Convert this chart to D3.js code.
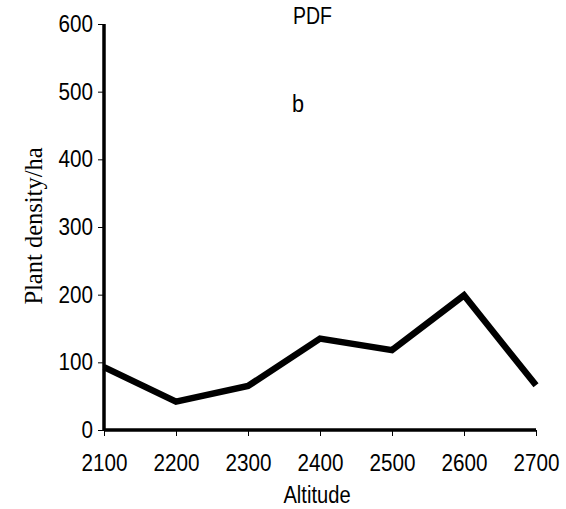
<!DOCTYPE html>
<html>
<head>
<meta charset="utf-8">
<script src="https://cdn.jsdelivr.net/npm/d3@7"></script>
<style>
  body { margin: 0; background: #fff; }
  text { fill: #000; }
</style>
</head>
<body>
<div id="chart"></div>
<script>
// data
var altitudes = [2100, 2200, 2300, 2400, 2500, 2600, 2700];
var density = [93, 42, 65, 135, 118, 199, 66];
var yTicks = [0, 100, 200, 300, 400, 500, 600];

var svgWidth = 566;
var svgHeight = 509;

var margin = { top: 24, right: 30, bottom: 79, left: 104 };
var width = 536 - margin.left;
var height = 430 - margin.top;

var sansFont = 'Liberation Sans, Arial, sans-serif';

var svg = d3.select('#chart')
  .append('svg')
  .attr('width', svgWidth)
  .attr('height', svgHeight);

var chartGroup = svg.append('g')
  .attr('transform', `translate(${margin.left}, ${margin.top})`);

var xScale = d3.scaleLinear().domain([2100, 2700]).range([0, width]);
var yScale = d3.scaleLinear().domain([0, 600]).range([height, 0]);

// y axis
var yAxis = chartGroup.append('g')
  .call(d3.axisLeft(yScale).tickValues(yTicks).tickSize(6).tickPadding(5));

// x axis
var xAxis = chartGroup.append('g')
  .attr('transform', `translate(0, ${height})`)
  .call(d3.axisBottom(xScale).tickValues(altitudes).tickFormat(d3.format('d')).tickSize(6).tickPadding(18));

// squeeze a text horizontally around its anchor point
function squeeze(sel, sx) {
  sel.each(function () {
    var t = d3.select(this);
    var x = +t.attr('x') || 0;
    var y = +t.attr('y') || 0;
    t.attr('x', 0).attr('y', 0)
      .attr('transform', `translate(${x}, ${y}) scale(${sx}, 1)`);
  });
}

[xAxis, yAxis].forEach(function (ax) {
  ax.select('.domain').attr('stroke', '#000').attr('stroke-width', 3.5);
  ax.selectAll('.tick line').attr('stroke', '#000').attr('stroke-width', 1);
  ax.selectAll('.tick text')
    .style('font-family', sansFont)
    .style('font-size', '23.5px')
    .attr('fill', '#000')
    .call(squeeze, 0.88);
});
yAxis.select('.domain').attr('d', `M0,${height}V0`);
xAxis.select('.domain').attr('d', `M0,0H${width}`);

// line
var line = d3.line()
  .x(function (d, i) { return xScale(altitudes[i]); })
  .y(function (d) { return yScale(d); });

chartGroup.append('path')
  .datum(density)
  .attr('d', line)
  .attr('fill', 'none')
  .attr('stroke', '#000')
  .attr('stroke-width', 6.5)
  .attr('stroke-linejoin', 'miter');

// labels
svg.append('text')
  .attr('x', 317)
  .attr('y', 503)
  .attr('text-anchor', 'middle')
  .style('font-family', sansFont)
  .style('font-size', '24px')
  .call(squeeze, 0.84)
  .text('Altitude');

svg.append('text')
  .attr('transform', 'translate(42, 226) rotate(-90)')
  .attr('text-anchor', 'middle')
  .style('font-family', 'Liberation Serif, Times New Roman, serif')
  .style('font-size', '24.5px')
  .text('Plant density/ha');

svg.append('text')
  .attr('x', 293)
  .attr('y', 24)
  .style('font-family', sansFont)
  .style('font-size', '23.5px')
  .call(squeeze, 0.83)
  .text('PDF');

svg.append('text')
  .attr('x', 292)
  .attr('y', 112)
  .style('font-family', sansFont)
  .style('font-size', '24px')
  .call(squeeze, 0.9)
  .text('b');
</script>
</body>
</html>
